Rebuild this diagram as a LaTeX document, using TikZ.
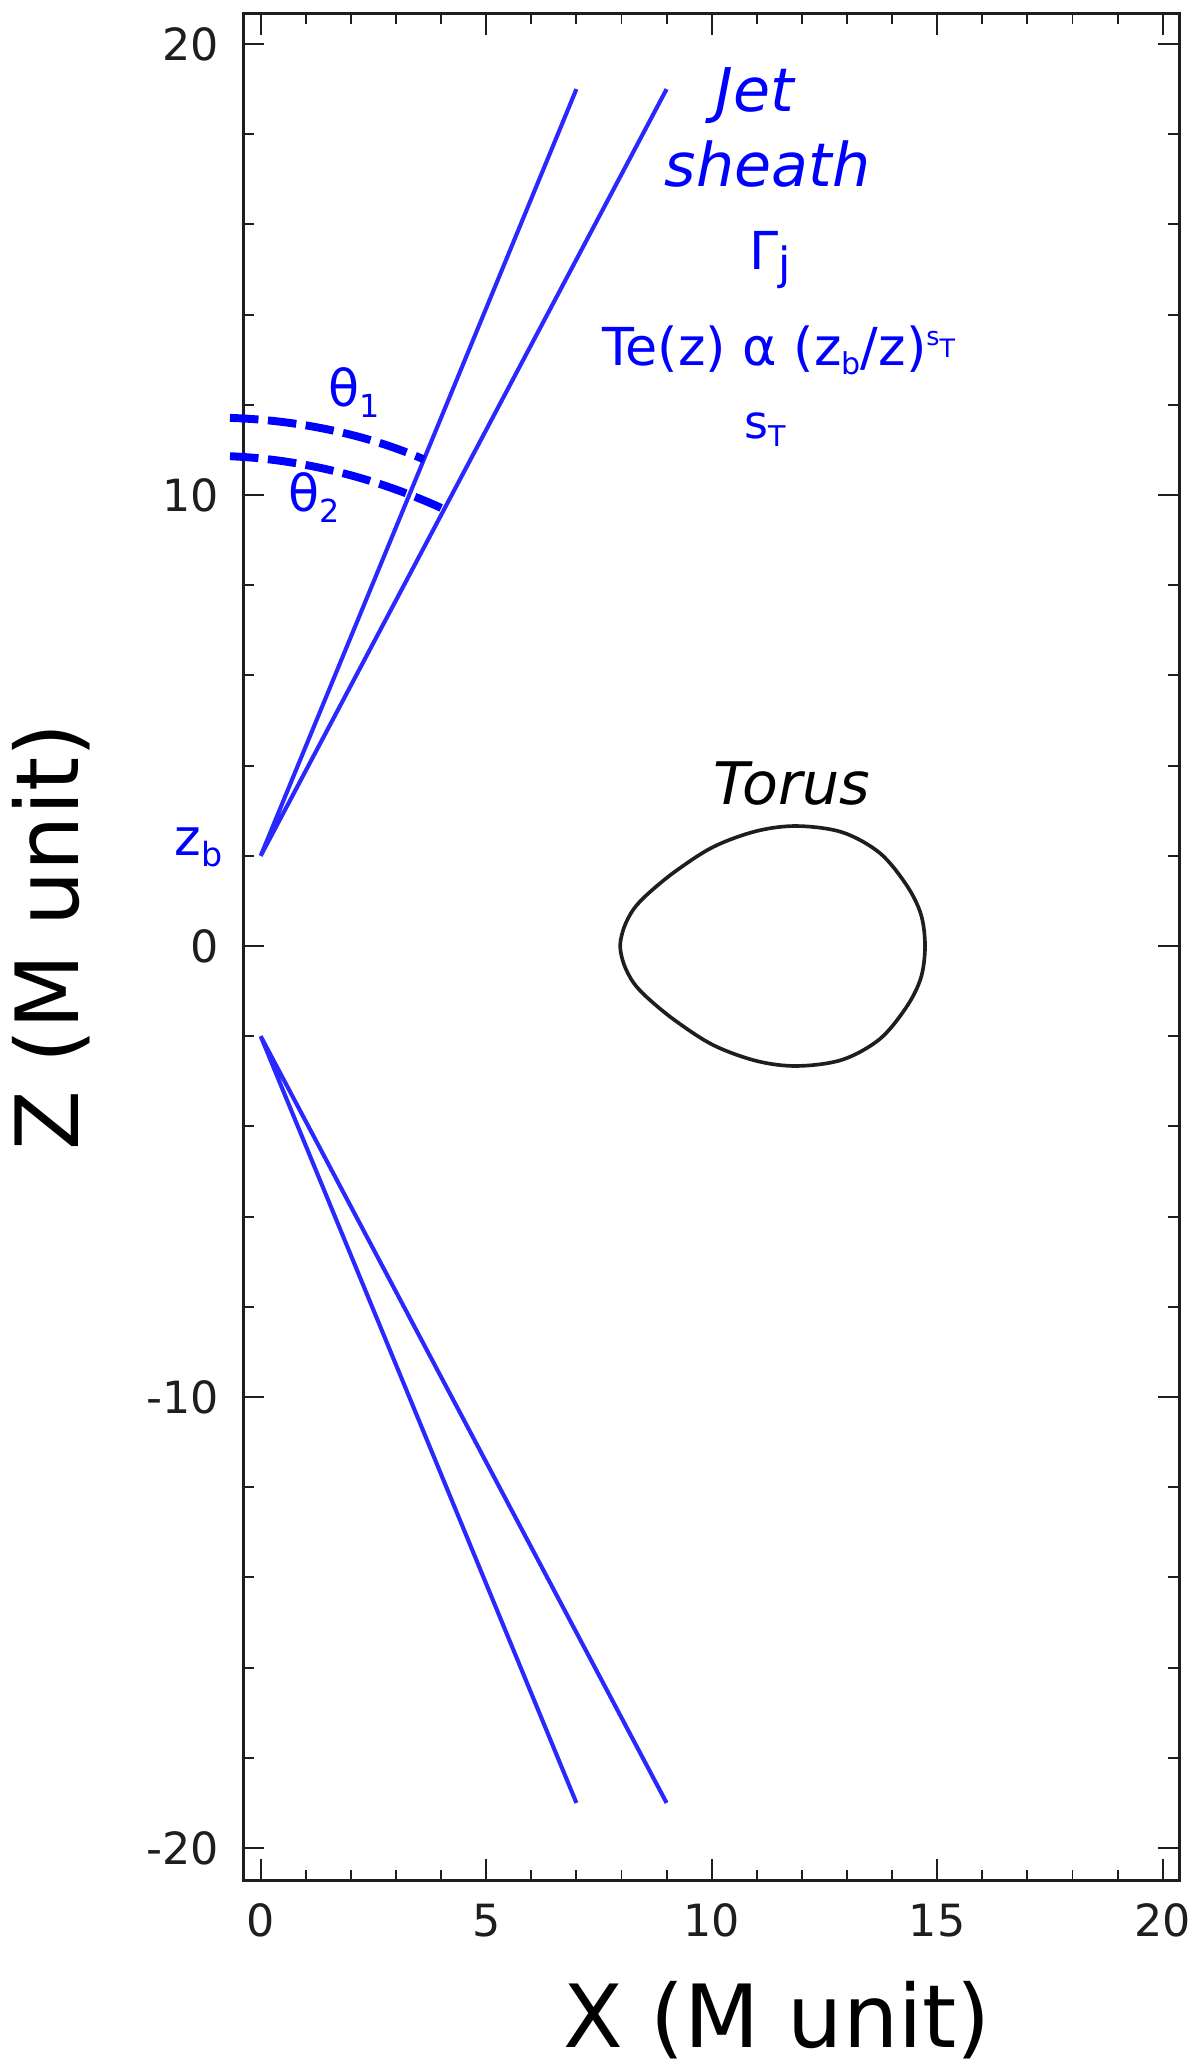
\documentclass[tikz,border=0pt]{standalone}
\usepackage{fontspec}
\setmainfont{DejaVu Sans}[ItalicFont={DejaVu Sans Oblique}]
\usetikzlibrary{calc}
\newcommand\fsz[1]{\fontsize{#1}{#1}\selectfont}
\newcommand\lo[3]{\raisebox{#2}{\fsz{#1}#3}}
\definecolor{jetblue}{RGB}{40,40,255}
\definecolor{inkgray}{RGB}{30,30,30}
\begin{document}
\begin{tikzpicture}[
  frame/.style={line width=2pt, inkgray},
  tickmark/.style={line width=1.2pt, inkgray},
  jet/.style={line width=2.6pt, jetblue, line join=bevel},
  arcd/.style={line width=5pt, blue, dash pattern=on 18pt off 6pt},
  ticklab/.style={inner sep=0pt, text=inkgray, font=\fsz{28}},
  axlab/.style={inner sep=0pt, text=black, font=\fsz{55}},
  bluelab/.style={inner sep=0pt, text=blue},
]
\useasboundingbox (-5.7805,-24.900) rectangle (20.827,20.976);
% frame
\draw[frame] (-0.386,-20.72) rectangle (20.365,20.68);
% ticks
\foreach \x in {0,...,20}{
  \pgfmathsetmacro\L{ifthenelse(mod(\x,5)==0,0.47,0.24)}
  \draw[tickmark] (\x,-20.72) -- ++(0,\L);
  \draw[tickmark] (\x,20.68) -- ++(0,-\L);
}
\foreach \z in {-20,-18,...,20}{
  \pgfmathsetmacro\L{ifthenelse(mod(\z,10)==0,0.47,0.24)}
  \draw[tickmark] (-0.386,\z) -- ++(\L,0);
  \draw[tickmark] (20.365,\z) -- ++(-\L,0);
}
% tick labels
\foreach \x in {0,5,10,15,20}
  \node[ticklab, anchor=base] (xl\x) at (\x,-21.97) {\x};
\foreach \z in {-20,-10,0,10,20}
  \node[ticklab, anchor=east] (zl\z) at (-0.92,\z) {\z};
% axis labels
\node[axlab, anchor=base] (xlab) at (11.45,-24.42) {X (M unit)};
\node[axlab, anchor=base, rotate=90] (zlab) at (-4.05,0.2) {Z (M unit)};
% jets
\coordinate (jbu) at (0,2);
\coordinate (jiu) at (7,19);
\coordinate (jou) at (9,19);
\coordinate (jbl) at (0,-2);
\coordinate (jil) at (7,-19);
\coordinate (jol) at (9,-19);
\draw[jet] (jiu) -- (jbu) -- (jou);
\draw[jet] (jil) -- (jbl) -- (jol);
% angle arcs
\coordinate (a1s) at (-0.681,11.71);
\coordinate (a1e) at ($(jbu)!0.517!(jiu)$);
\coordinate (a2s) at (-0.681,10.86);
\coordinate (a2e) at ($(jbu)!0.452!(jou)$);
\draw[arcd] (a1s) .. controls (0.821,11.66) and (2.328,11.35) .. (a1e);
\draw[arcd] (a2s) .. controls (0.937,10.79) and (2.549,10.38) .. (a2e);
% blue labels
\node[bluelab, anchor=base west, font=\fsz{32}] (th1) at (1.49,11.96) {θ\lo{20}{-7pt}{1}};
\node[bluelab, anchor=base west, font=\fsz{32}] (th2) at (0.605,9.63) {θ\lo{20}{-7pt}{2}};
\node[bluelab, anchor=base west, font=\fsz{32}] (zb) at (-1.92,2.0) {z\lo{21}{-7pt}{b}};
\node[bluelab, anchor=base, font=\fsz{38}\itshape] (jet) at (10.96,18.50) {Jet};
\node[bluelab, anchor=base, font=\fsz{38}\itshape] (sheath) at (11.24,16.84) {sheath};
\node[bluelab, anchor=base, font=\fsz{33}] (gam) at (11.29,14.99) {Γ\lo{28}{-6pt}{j}};
\node[bluelab, anchor=base, font=\fsz{33}] (te) at (11.49,12.88)
  {Te(z) α (z\lo{19}{-6pt}{b}/z)\lo{16}{12.6pt}{s\lo{16}{-8pt}{T}}};
\node[bluelab, anchor=base, font=\fsz{29}] (st) at (11.18,11.26) {s\lo{18}{-5.5pt}{T}};
% torus
\node[inner sep=0pt, anchor=base, text=black, font=\fsz{37}\itshape] (toruslab) at (11.78,3.13) {Torus};
\draw[line width=2.3pt, inkgray] plot[smooth cycle, tension=0.55] coordinates {
  (7.97,0) (8.06,0.42) (8.27,0.82) (8.6,1.17) (9.2,1.66) (10.04,2.2) (11.0,2.55) (11.9,2.66)
  (12.9,2.52) (13.73,2.06) (14.32,1.35) (14.64,0.7) (14.73,0) (14.64,-0.7) (14.32,-1.35) (13.73,-2.06)
  (12.9,-2.52) (11.9,-2.66) (11.0,-2.55) (10.04,-2.2) (9.2,-1.66) (8.6,-1.17) (8.27,-0.82) (8.06,-0.42)};
\end{tikzpicture}
\end{document}
